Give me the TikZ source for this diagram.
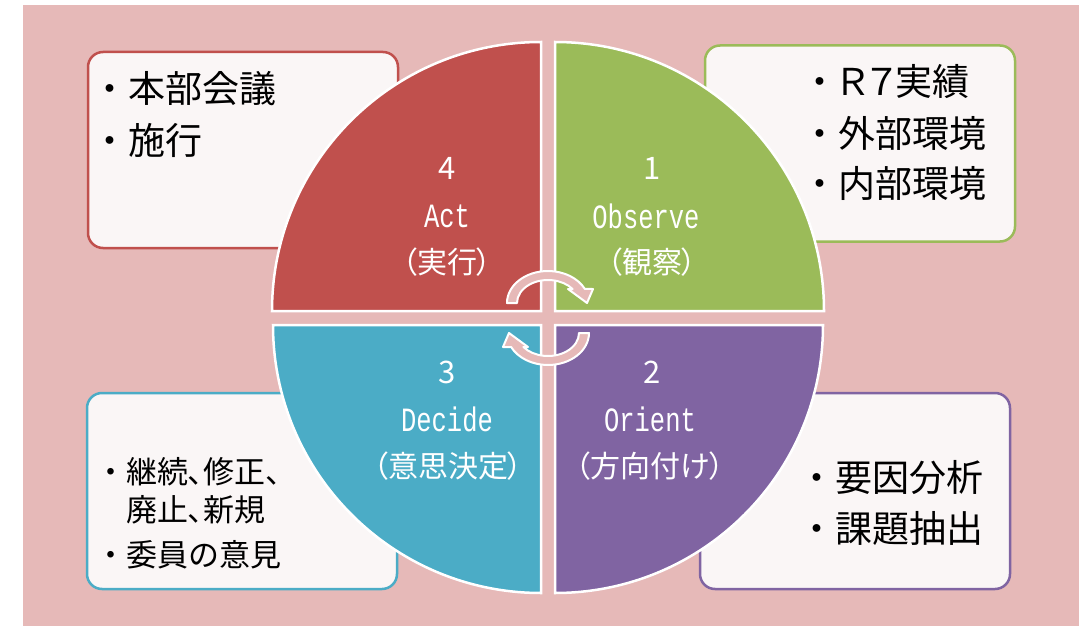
\documentclass[tikz,border=0pt]{standalone}
\usepackage{fontspec}
\setmainfont{Noto Sans CJK JP}
\newfontfamily\jp{Noto Sans CJK JP}
\newfontfamily\jpp[RawFeature=+palt]{Noto Sans CJK JP}
\newfontfamily\mono[FakeStretch=0.75]{Liberation Mono}
\definecolor{cBg}{HTML}{E6B9B8}
\definecolor{cBox}{HTML}{FAF6F6}
\definecolor{cRed}{HTML}{C0504D}
\definecolor{cGreen}{HTML}{9BBB59}
\definecolor{cBlue}{HTML}{4BACC6}
\definecolor{cPurple}{HTML}{8064A2}
\tikzset{
  quad/.style={draw=white, line width=2.5pt},
  box/.style={draw, fill=cBox, line width=2.5pt, rounded corners=15pt, minimum width=310pt, minimum height=196pt, inner sep=0pt},
  num/.style={text=white, font=\jp\fontsize{31}{31}\selectfont, inner sep=0pt},
  lat/.style={text=white, font=\mono\fontsize{34}{34}\selectfont, inner sep=0pt},
  jpl/.style={text=white, font=\jpp\fontsize{30}{30}\selectfont, inner sep=0pt},
  big/.style={anchor=west, font=\jp\fontsize{37}{37}\selectfont, inner sep=0pt},
  small/.style={anchor=west, font=\jp\fontsize{31}{31}\selectfont, inner sep=0pt},
  cyc/.style={fill=cBg, draw=white, line width=2pt, line join=round},
}
\newcommand\cycshape{%
  (-41,0) arc[start angle=180,end angle=334,x radius=41,y radius=32]
  -- (45,-14) -- (39,0) -- (20,-14) -- (24.6,-14)
  arc[start angle=322.5,end angle=180,x radius=31,y radius=23] -- cycle}
\begin{document}
\begin{tikzpicture}[x=1pt,y=-1pt]
\useasboundingbox (0,0) rectangle (1079,626);
\fill[cBg] (23,5) rectangle (1079,626);
% boxes
\node[box, draw=cRed] (bTL) at (243,150) {};
\node[box, draw=cGreen] (bTR) at (860,143.5) {};
\node[box, draw=cBlue] (bBL) at (242,491) {};
\node[box, draw=cPurple] (bBR) at (855,491) {};
% quadrants
\path[quad, fill=cRed] (541,311) -- (272,311) arc[start angle=180,end angle=270,radius=269] -- cycle;
\path[quad, fill=cGreen] (555,311) -- (555,42) arc[start angle=270,end angle=360,radius=269] -- cycle;
\path[quad, fill=cBlue] (541,325) -- (273,325) arc[start angle=180,end angle=90,radius=268] -- cycle;
\path[quad, fill=cPurple] (555,325) -- (823,325) arc[start angle=0,end angle=90,radius=268] -- cycle;
% cycle arrows
\begin{scope}[shift={(548,303)}]
  \path[cyc] \cycshape;
\end{scope}
\begin{scope}[shift={(548,333)}, rotate=180]
  \path[cyc] \cycshape;
\end{scope}
% quadrant labels
\node[num] (n4) at (447,168) {4};
\node[lat] (a4) at (447,216) {Act};
\node[jpl] (j4) at (447,262) {（実行）};
\node[num] (n1) at (652,168) {1};
\node[lat] (a1) at (646,216) {Observe};
\node[jpl] (j1) at (652,262) {（観察）};
\node[num] (n3) at (447,372) {3};
\node[lat] (a3) at (447,419) {Decide};
\node[jpl] (j3) at (448,466) {（意思決定）};
\node[num] (n2) at (652,372) {2};
\node[lat] (a2) at (650,419) {Orient};
\node[jpl] (j2) at (650,466) {（方向付け）};
% box texts
\node[big] (tl1) at (91,89) {・本部会議};
\node[big] (tl2) at (91,140) {・施行};
\node[big] (tr1) at (801,82) {・{\jpp Ｒ７}実績};
\node[big] (tr2) at (801,133) {・外部環境};
\node[big] (tr3) at (801,183) {・内部環境};
\node[big] (br1) at (798,478) {・要因分析};
\node[big] (br2) at (798,528) {・課題抽出};
\node[small] (bl1) at (95,472) {・{\jpp 継続、修正、}};
\node[small] (bl2) at (126,510) {{\jpp 廃止、新規}};
\node[small] (bl3) at (95,555) {・委員の意見};
\end{tikzpicture}
\end{document}
